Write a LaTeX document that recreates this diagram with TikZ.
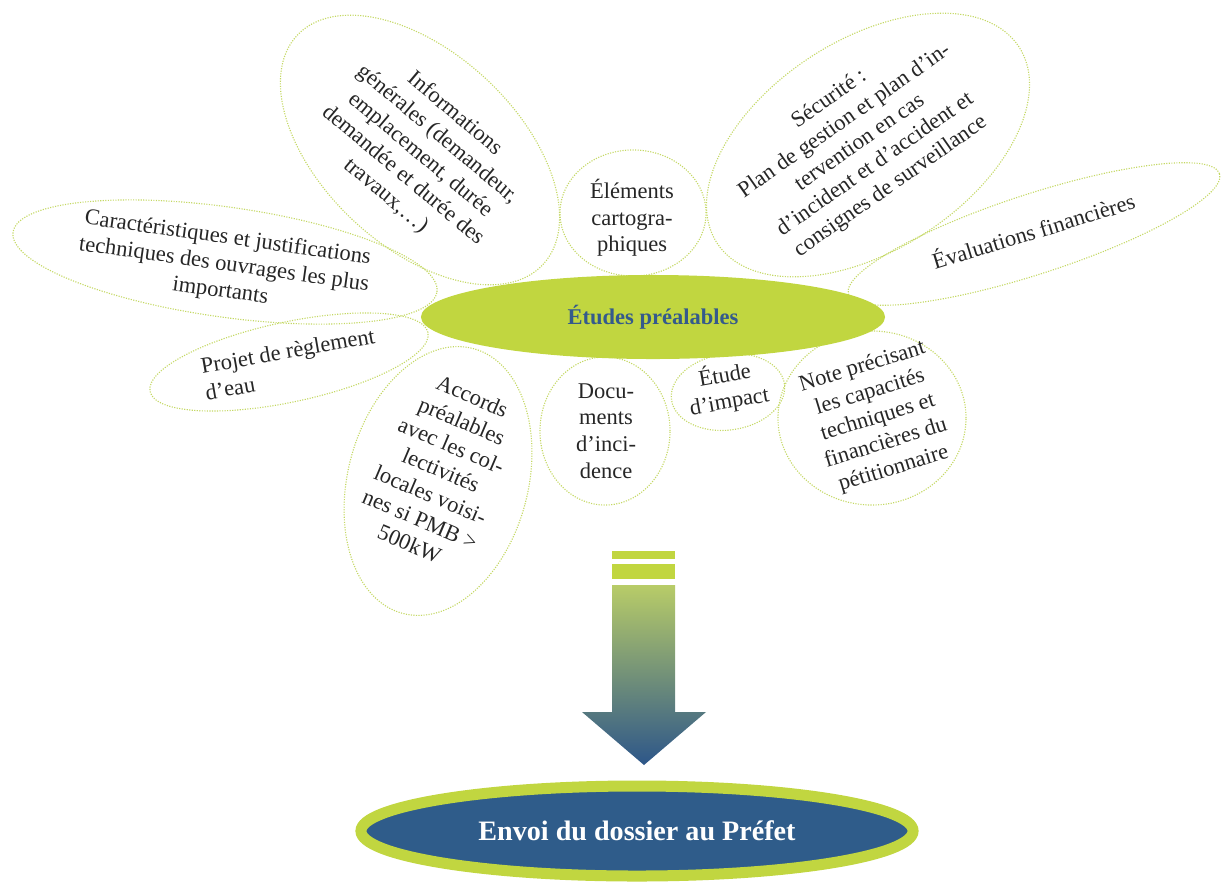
\documentclass[tikz,border=0pt]{standalone}
\usepackage{fontspec}
\setmainfont{Liberation Serif}
\usepackage{xcolor}
\usepackage{tikz}
\usetikzlibrary{shapes.geometric}

\definecolor{leafgreen}{RGB}{193,214,64}
\definecolor{dotgreen}{RGB}{196,216,100}
\definecolor{deepblue}{RGB}{47,92,138}
\definecolor{titleblue}{RGB}{52,90,140}
\definecolor{inkgray}{RGB}{38,38,38}
\definecolor{shaftgreen}{RGB}{184,204,104}
\definecolor{shaftblue}{RGB}{45,86,137}

\tikzset{
  petal/.style={ellipse, draw=dotgreen, densely dotted, line width=0.8pt, inner sep=0pt},
  petaltxt/.style={align=center, text=inkgray, inner sep=0pt, font=\fontsize{16}{19}\selectfont},
  hub/.style={ellipse, fill=leafgreen, inner sep=0pt, minimum width=11.6cm, minimum height=2.1cm,
    text=titleblue, font=\fontsize{16}{19}\selectfont\bfseries},
  finalbox/.style={ellipse, fill=deepblue, draw=leafgreen, line width=0.275cm, inner sep=0pt,
    minimum width=13.8cm, minimum height=2.25cm, text=white, font=\fontsize{20}{23}\selectfont\bfseries}
}

\begin{document}
\begin{tikzpicture}[x=0.025cm, y=-0.025cm]
\useasboundingbox (0,0) rectangle (1223,883);

\node[petal, rotate=-43, minimum width=8.4cm, minimum height=4.85cm] (info) at (420,150) {};
\node[petal, rotate=33, minimum width=9cm, minimum height=5.25cm] (secu) at (868,145) {};
\node[petal, rotate=-8, minimum width=10.7cm, minimum height=2.75cm] (carac) at (225,262) {};
\node[petal, rotate=12, minimum width=7.1cm, minimum height=2cm] (projet) at (289,362) {};
\node[petal, minimum width=3.65cm, minimum height=3.15cm] (elem) at (633,213) {};
\node[petal, rotate=18, minimum width=9.75cm, minimum height=2cm] (eval) at (1034,234) {};
\node[petal, rotate=-15, minimum width=4.5cm, minimum height=6.85cm] (accords) at (438,481) {};
\node[petal, minimum width=3.25cm, minimum height=3.7cm] (docs) at (605,431) {};
\node[petal, rotate=8, minimum width=2.85cm, minimum height=1.9cm] (etude) at (728,392) {};
\node[petal, minimum width=4.7cm, minimum height=4.35cm] (note) at (872,418) {};

\node[hub] (etudes) at (653,317) {Études préalables};

\node[petaltxt, rotate=-40] (infotxt) at (420,155)
  {Informations\\générales (demandeur,\\emplacement, durée\\demandée et durée des\\travaux,…)};
\node[petaltxt, rotate=35] (secutxt) at (860,143)
  {Sécurité~:\\Plan de gestion et plan d’in-\\tervention en cas\\d’incident et d’accident et\\consignes de surveillance};
\node[petaltxt, rotate=-8] (caractxt) at (224,265)
  {Caractéristiques et justifications\\techniques des ouvrages les plus\\importants};
\node[petaltxt, align=left, rotate=10] (projettxt) at (290,364)
  {Projet de règlement\\d’eau};
\node[petaltxt] (elemtxt) at (632,218) {Éléments\\cartogra-\\phiques};
\node[petaltxt, rotate=17] (evaltxt) at (1033,230) {Évaluations financières};
\node[petaltxt, rotate=-23] (accordstxt) at (441,470)
  {Accords\\préalables\\avec les col-\\lectivités\\locales voisi-\\nes si PMB >\\500kW};
\node[petaltxt] (docstxt) at (606,431) {Docu-\\ments\\d’inci-\\dence};
\node[petaltxt, rotate=10] (etudetxt) at (727,388) {Étude\\d’impact};
\node[petaltxt, rotate=17] (notetxt) at (878,418)
  {Note précisant\\les capacités\\techniques et\\financières du\\pétitionnaire};

\fill[leafgreen] (612,551) rectangle (675,559);
\fill[leafgreen] (612,564) rectangle (675,579);
\shade[top color=shaftgreen, bottom color=shaftblue]
  (612,585) -- (675,585) -- (675,712) -- (706,712) -- (644,765) -- (582,712) -- (612,712) -- cycle;

\node[finalbox] (envoi) at (637,831) {Envoi du dossier au Préfet};
\end{tikzpicture}
\end{document}
